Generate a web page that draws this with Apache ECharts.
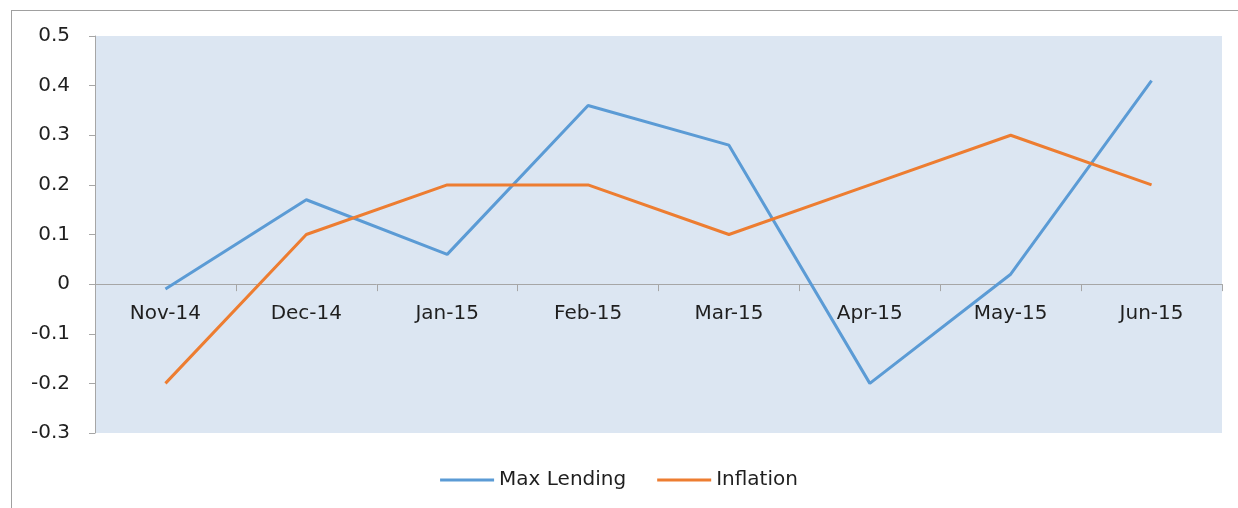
<!DOCTYPE html>
<html>
<head>
<meta charset="utf-8">
<script src="https://cdn.jsdelivr.net/npm/echarts@6/dist/echarts.min.js"></script>
<style>
  html, body { margin: 0; padding: 0; background: #fff; }
  #wrap { position: absolute; left: 11px; top: 10px; width: 1227px; height: 498px; border-left: 1px solid #a0a0a0; border-top: 1px solid #a0a0a0; }
  #chart { position: absolute; left: 0; top: 0; width: 1238px; height: 508px; }
</style>
</head>
<body>
<div id="wrap"></div>
<div id="chart"></div>
<script>
// 数据
var months = ["Nov-14", "Dec-14", "Jan-15", "Feb-15", "Mar-15", "Apr-15", "May-15", "Jun-15"];
var maxLending = [-0.01, 0.17, 0.06, 0.36, 0.28, -0.2, 0.02, 0.41];
var inflation = [-0.2, 0.1, 0.2, 0.2, 0.1, 0.2, 0.3, 0.2];
var yMin = -0.3, yMax = 0.5, yStep = 0.1;

var font = "'DejaVu Sans', sans-serif";
var gridTop = 36, gridBottom = 75, chartH = 508;
// x轴放在0的位置（用offset往上移）
var plotH = chartH - gridTop - gridBottom;
var zeroOffset = -plotH * (0 - yMin) / (yMax - yMin);

var myChart = echarts.init(document.getElementById("chart"));

myChart.setOption({
  animation: false,
  textStyle: { fontFamily: font },
  grid: { left: 95, right: 16, top: gridTop, bottom: gridBottom, containLabel: false },
  legend: {
    bottom: 13,
    left: "center",
    icon: "rect",
    itemWidth: 54,
    itemHeight: 3,
    itemGap: 31,
    textStyle: { fontSize: 20, color: "#1f1f1f", fontFamily: font },
    data: ["Max Lending", "Inflation"]
  },
  xAxis: {
    type: "category",
    data: months,
    position: "bottom",
    offset: zeroOffset,
    axisLine: { onZero: false, lineStyle: { color: "#a6a6a6", width: 1 } },
    axisTick: { show: true, length: 7, lineStyle: { color: "#a6a6a6" } },
    axisLabel: { color: "#1f1f1f", fontSize: 20, margin: 20, fontFamily: font },
    splitLine: { show: false }
  },
  yAxis: {
    type: "value",
    min: yMin,
    max: yMax,
    interval: yStep,
    axisLine: { show: true, lineStyle: { color: "#a6a6a6", width: 1 } },
    axisTick: { show: true, length: 6, lineStyle: { color: "#a6a6a6" } },
    axisLabel: {
      color: "#1f1f1f", fontSize: 20, margin: 25, fontFamily: font,
      formatter: function (v) { return String(Math.round(v * 10) / 10); }
    },
    splitLine: { show: false },
    splitArea: { show: true, areaStyle: { color: ["#dce6f2", "#dce6f2"] } }
  },
  series: [
    {
      name: "Max Lending",
      type: "line",
      data: maxLending,
      symbol: "none",
      lineStyle: { color: "#5b9bd5", width: 3 },
      itemStyle: { color: "#5b9bd5" }
    },
    {
      name: "Inflation",
      type: "line",
      data: inflation,
      symbol: "none",
      lineStyle: { color: "#ed7d31", width: 3 },
      itemStyle: { color: "#ed7d31" }
    }
  ]
});
</script>
</body>
</html>
